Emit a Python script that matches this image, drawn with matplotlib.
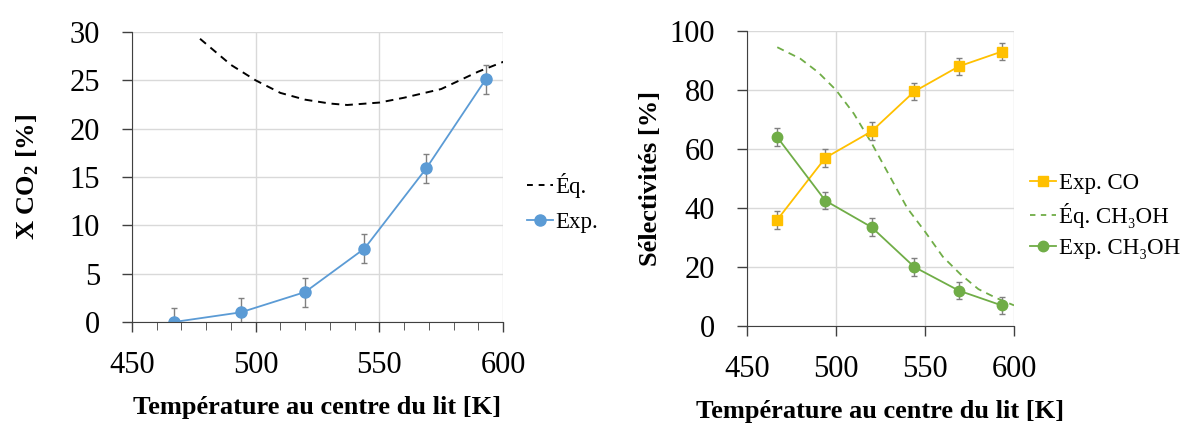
import numpy as np
import matplotlib.pyplot as plt
from matplotlib.lines import Line2D
from matplotlib.ticker import MultipleLocator

# left panel: CO2 conversion
t_exp = [467, 494, 520, 544, 569, 593]
x_co2 = [0.0, 1.0, 3.1, 7.6, 15.9, 25.1]
x_co2_err = [1.5, 1.5, 1.5, 1.5, 1.5, 1.5]

t_eq = [477.5, 490, 500, 510, 520, 530, 537, 550, 560, 575, 590, 601]
x_eq = [29.3, 26.6, 25.0, 23.7, 23.0, 22.6, 22.45, 22.7, 23.2, 24.1, 25.9, 27.0]

# right panel: selectivities
s_co = [36, 57, 66, 79.5, 88, 93]
s_meoh = [64, 42.5, 33.5, 20, 12, 7]
s_err = [3, 3, 3, 3, 3, 3]

t_eq_s = [467, 480, 490, 500, 510, 520, 530, 540, 550, 560, 570, 580, 590, 600]
s_eq_meoh = [94.5, 90.6, 86, 80, 72, 62, 51, 40, 32, 23.5, 17.5, 12.5, 9.5, 7]

plt.rcParams['font.family'] = ['Liberation Serif', 'DejaVu Serif']
plt.rcParams['mathtext.fontset'] = 'custom'
plt.rcParams['mathtext.rm'] = 'Liberation Serif'
plt.rcParams['mathtext.bf'] = 'Liberation Serif:bold'
grid_c = '#d9d9d9'
blue = '#5B9BD5'
gold = '#FFC000'
green = '#70AD47'
tick_c = '#404040'

W, H = 1186, 423
fig = plt.figure(figsize=(W / 100, H / 100), dpi=100)

def style(ax):
    for s in ['top', 'right']:
        ax.spines[s].set_visible(False)
    ax.spines['left'].set_color(tick_c)
    ax.spines['bottom'].set_color(tick_c)
    ax.grid(True, color=grid_c, lw=1)
    ax.set_axisbelow(True)
    ax.tick_params(labelsize=22, length=7, width=1, color=tick_c)
    ax.tick_params(axis='y', pad=16)
    ax.tick_params(axis='x', pad=14)

leg_kw = dict(frameon=False, fontsize=16.5, handlelength=1.15, handletextpad=0.1,
              borderpad=0, borderaxespad=0)

# ---------- left
ax1 = fig.add_axes([132 / W, (H - 322) / H, (503 - 132) / W, 290 / H])
style(ax1)
ax1.plot(t_eq, x_eq, color='black', lw=1.4, dashes=(4, 3))
ax1.errorbar(t_exp, x_co2, yerr=x_co2_err, color=blue, marker='o', ms=8,
             lw=1.3, ecolor='#808080', elinewidth=1, capsize=2.5)
ax1.set_xlim(450, 600)
ax1.set_ylim(0, 30)
ax1.set_xticks([450, 500, 550, 600])
ax1.xaxis.set_minor_locator(MultipleLocator(10))
ax1.tick_params(axis='x', which='minor', length=6, color=tick_c)
ax1.set_yticks([0, 5, 10, 15, 20, 25, 30])
ax1.set_xlabel('Température au centre du lit [K]', fontsize=19, fontweight='bold')
ax1.set_ylabel('X CO$_\\mathbf{2}$ [%]', fontsize=19, fontweight='bold')
ax1.xaxis.set_label_coords(0.5, -0.255)
ax1.yaxis.set_label_coords(-0.245, 0.5)
h1 = [Line2D([], [], color='black', lw=1.4, dashes=(3, 3)),
      Line2D([], [], color=blue, lw=1.3, marker='o', ms=8)]
ax1.legend(h1, ['Éq.', 'Exp.'], loc='center left', bbox_to_anchor=(1.065, 0.41),
           labelspacing=0.6, **leg_kw)

# ---------- right
ax2 = fig.add_axes([747 / W, (H - 326) / H, (1014 - 747) / W, 295 / H])
style(ax2)
ax2.errorbar(t_exp, s_co, yerr=s_err, color=gold, marker='s', ms=6.5,
             lw=1.3, ecolor='#808080', elinewidth=1, capsize=2.5)
ax2.plot(t_eq_s, s_eq_meoh, color=green, lw=1.3, dashes=(4, 3))
ax2.errorbar(t_exp, s_meoh, yerr=s_err, color=green, marker='o', ms=7.5,
             lw=1.3, ecolor='#808080', elinewidth=1, capsize=2.5)
ax2.set_xlim(450, 600)
ax2.set_ylim(0, 100)
ax2.set_xticks([450, 500, 550, 600])
ax2.set_yticks([0, 20, 40, 60, 80, 100])
ax2.set_xlabel('Température au centre du lit [K]', fontsize=19, fontweight='bold')
ax2.set_ylabel('Sélectivités [%]', fontsize=19, fontweight='bold')
ax2.xaxis.set_label_coords(0.5, -0.25)
ax2.yaxis.set_label_coords(-0.32, 0.5)
h2 = [Line2D([], [], color=gold, lw=1.3, marker='s', ms=6.5),
      Line2D([], [], color=green, lw=1.3, dashes=(3, 3)),
      Line2D([], [], color=green, lw=1.3, marker='o', ms=7.5)]
ax2.legend(h2, ['Exp. CO', 'Éq. CH₃OH', 'Exp. CH₃OH'], loc='center left',
           bbox_to_anchor=(1.06, 0.373), labelspacing=0.42, **leg_kw)

fig.savefig('out.png', dpi=100)
